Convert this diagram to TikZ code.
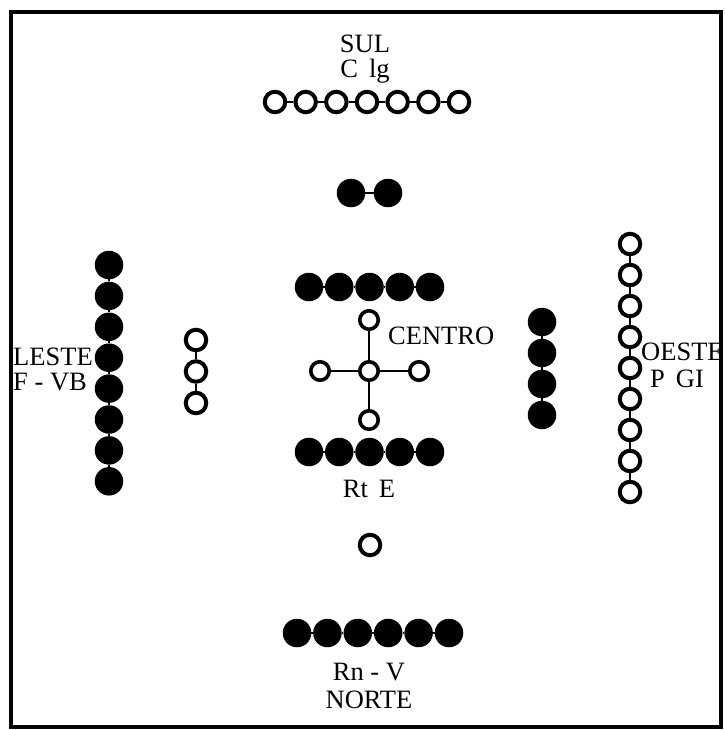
\documentclass[tikz,border=0pt]{standalone}
\usepackage{fontspec}
\setmainfont{Liberation Serif}
\begin{document}
\begin{tikzpicture}[x=1pt,y=-1pt,
  opendot/.style={circle,draw=black,fill=white,line width=4pt,minimum size=20.5pt,inner sep=0pt},
  smalldot/.style={circle,draw=black,fill=white,line width=3.6pt,minimum size=18.5pt,inner sep=0pt},
  blackdot/.style={circle,fill=black,minimum size=28.5pt,inner sep=0pt},
  link/.style={line width=2.6pt},
  thin link/.style={line width=2pt},
  lbl/.style={font=\fontsize{26.5}{26.5}\selectfont,inner sep=0pt},
]
\useasboundingbox (0,0) rectangle (724,730);
\draw[line width=3.5pt] (11,12) rectangle (721,727);

% SUL row
\foreach \i in {0,...,6} \node[opendot] (s\i) at ({275+\i*30.67},102) {};
\foreach \i [evaluate=\i as \j using int(\i+1)] in {0,...,5} \draw[link] (s\i) -- (s\j);
\node[lbl] (sul) at (365,44) {SUL};
\node[lbl] (clg) at (365,71) {C\,\ lg};

% pair
\node[blackdot] (p0) at (351,193) {};
\node[blackdot] (p1) at (388,193) {};
\draw[link] (p0) -- (p1);

% upper row
\foreach \i in {0,...,4} \node[blackdot] (u\i) at ({309+\i*30.25},287) {};
\foreach \i [evaluate=\i as \j using int(\i+1)] in {0,...,3} \draw[link] (u\i) -- (u\j);

% centre cross
\node[smalldot] (cc) at (369,371) {};
\node[smalldot] (ct) at (369,320) {};
\node[smalldot] (cb) at (369,420) {};
\node[smalldot] (cl) at (320,371) {};
\node[smalldot] (cr) at (419,371) {};
\draw[thin link] (cc) -- (ct);
\draw[thin link] (cc) -- (cb);
\draw[thin link] (cc) -- (cl);
\draw[thin link] (cc) -- (cr);
\node[lbl,anchor=west] (centro) at (388,336) {CENTRO};

% lower row
\foreach \i in {0,...,4} \node[blackdot] (l\i) at ({309+\i*30.25},452) {};
\foreach \i [evaluate=\i as \j using int(\i+1)] in {0,...,3} \draw[link] (l\i) -- (l\j);
\node[lbl] (rte) at (369,489) {Rt\,\ E};

% single open
\node[opendot] (single) at (370,545) {};

% bottom row
\foreach \i in {0,...,5} \node[blackdot] (n\i) at ({297+\i*30.4},633) {};
\foreach \i [evaluate=\i as \j using int(\i+1)] in {0,...,4} \draw[link] (n\i) -- (n\j);
\node[lbl] (rnv) at (369,672) {Rn - V};
\node[lbl] (norte) at (369,700) {NORTE};

% left black column
\foreach \i in {0,...,7} \node[blackdot] (e\i) at (109,{265+\i*30.9}) {};
\foreach \i [evaluate=\i as \j using int(\i+1)] in {0,...,6} \draw[link] (e\i) -- (e\j);
\node[lbl,anchor=west] (leste) at (13,357) {LESTE};
\node[lbl,anchor=west] (fvb) at (13,382) {F - VB};

% left open column
\foreach \i in {0,...,2} \node[opendot] (o\i) at (196,{340+\i*31.5}) {};
\foreach \i [evaluate=\i as \j using int(\i+1)] in {0,...,1} \draw[link] (o\i) -- (o\j);

% right black column
\foreach \i in {0,...,3} \node[blackdot] (r\i) at (542,{322+\i*31}) {};
\foreach \i [evaluate=\i as \j using int(\i+1)] in {0,...,2} \draw[link] (r\i) -- (r\j);

% right open column
\foreach \i in {0,...,8} \node[opendot] (w\i) at (630,{244+\i*31}) {};
\foreach \i [evaluate=\i as \j using int(\i+1)] in {0,...,7} \draw[link] (w\i) -- (w\j);
\node[lbl,anchor=west] (oeste) at (641,352) {OESTE};
\node[lbl] (pgi) at (677,379) {P\,\ GI};
\end{tikzpicture}
\end{document}
